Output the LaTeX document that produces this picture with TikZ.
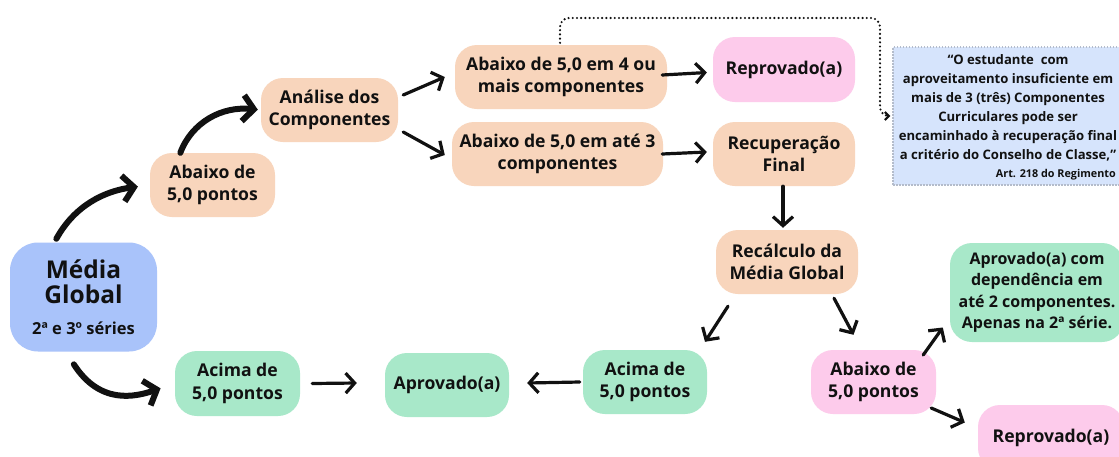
\documentclass[tikz,border=0pt]{standalone}
\usepackage{fontspec}
\setmainfont{Open Sans}
\usetikzlibrary{arrows.meta,calc}
\definecolor{peach}{HTML}{F8D5BC}
\definecolor{pinkb}{HTML}{FDCBEB}
\definecolor{greenb}{HTML}{A8E8C9}
\definecolor{blueb}{HTML}{A9C3FA}
\definecolor{quotef}{HTML}{D6E4FC}
\definecolor{quoted}{HTML}{B4BCCB}
\definecolor{ink}{HTML}{111111}
\begin{document}
\begin{tikzpicture}[x=1pt,y=-1pt,
  box/.style={rounded corners=22pt, inner sep=0pt, align=center, text=ink,
    font=\bfseries\fontsize{17.6}{22.5}\selectfont},
  thinarrow/.style={draw=ink, line width=3.2pt, line cap=round,
    -{Straight Barb[length=9pt,width=20pt,line width=3.2pt]}},
  bigarrow/.style={draw=ink, line width=6pt, line cap=round,
    -{Straight Barb[length=11pt,width=26pt,line width=6pt]}},
  dotline/.style={draw=ink, line width=2.4pt, line cap=round, dash pattern=on 0pt off 4.2pt,
    rounded corners=9pt, -{Straight Barb[length=4pt,width=8pt,line width=2.2pt]}}
]
\useasboundingbox (0,0) rectangle (1119,456);
\fill[white] (0,0) rectangle (1119,456);

% nodes
\node[box, fill=blueb, rounded corners=28pt, minimum width=147pt, minimum height=109pt,
  font=\bfseries\fontsize{24.5}{25}\selectfont] (media) at (83.5,297)
  {Média\\Global\\[6pt]\fontsize{16.5}{18}\selectfont 2ª e 3º séries};
\node[box, fill=peach, minimum width=125pt, minimum height=64pt] (ab1) at (212.5,185) {Abaixo de\\5,0 pontos};
\node[box, fill=peach, minimum width=137pt, minimum height=64pt] (anal) at (329.5,110) {Análise dos\\Componentes};
\node[box, fill=peach, minimum width=212pt, minimum height=64pt] (ab4) at (561,77) {Abaixo de 5,0 em 4 ou\\mais componentes};
\node[box, fill=peach, minimum width=211pt, minimum height=64pt] (ab3) at (557.5,154) {Abaixo de 5,0 em até 3\\componentes};
\node[box, fill=pinkb, minimum width=142pt, minimum height=65pt] (rep1) at (784,69.5) {Reprovado(a)};
\node[box, fill=peach, minimum width=142pt, minimum height=64pt] (recfin) at (784,154) {Recuperação\\Final};
\node[box, fill=peach, minimum width=142pt, minimum height=64pt] (recalc) at (787,262) {Recálculo da\\Média Global};
\node[box, fill=greenb, minimum width=124pt, minimum height=64pt] (acimaR) at (645,382) {Acima de\\5,0 pontos};
\node[box, fill=pinkb, minimum width=125pt, minimum height=64pt] (abPink) at (873.5,382) {Abaixo de\\5,0 pontos};
\node[box, fill=greenb, minimum width=174pt, minimum height=99pt, font=\bfseries\fontsize{16}{21.5}\selectfont] (dep) at (1037,292.5)
  {Aprovado(a) com\\dependência em\\até 2 componentes.\\Apenas na 2ª série.};
\node[box, fill=pinkb, minimum width=146pt, minimum height=65pt] (rep2) at (1051,437.5) {Reprovado(a)};
\node[box, fill=greenb, minimum width=125pt, minimum height=65pt] (acimaL) at (237.5,383.5) {Acima de\\5,0 pontos};
\node[box, fill=greenb, minimum width=124pt, minimum height=64pt] (aprov) at (447,385) {Aprovado(a)};

% quote box
\node[draw=quoted, line width=1.2pt, dash pattern=on 1.5pt off 1.5pt, fill=quotef, inner sep=0pt,
  minimum width=232pt, minimum height=138pt] (quote) at (1009,116) {};
\node[align=center, text=ink, inner sep=0pt, font=\bfseries\fontsize{13.1}{19}\selectfont] (qtext) at (1008,108)
  {“O estudante\ \ com\\aproveitamento insuficiente em\\mais de 3 (três) Componentes\\Curriculares pode ser\\encaminhado à recuperação final\\a critério do Conselho de Classe,”};
\node[anchor=east, text=ink, inner sep=0pt, font=\bfseries\fontsize{10.8}{13}\selectfont] (art) at (1116,175) {Art. 218 do Regimento};

% connectors
\draw[bigarrow, shorten <=4pt, shorten >=12pt] (media.118) .. controls (75,205) and (105,191) .. (ab1.west);
\draw[bigarrow, shorten >=3pt] (ab1.135) .. controls (192,122) and (222,106) .. (anal.west);
\draw[bigarrow, shorten <=15pt, shorten >=15pt] (media.252) .. controls (100,405) and (135,397) .. (acimaL.west);

\draw[thinarrow] ($(anal.east)+(5,-15)$) -- ($(ab4.west)+(-10,0)$);
\draw[thinarrow] ($(anal.east)+(5,22)$) -- ($(ab3.west)+(-7,1)$);
\draw[thinarrow] ($(ab4.east)+(-5,-2)$) -- ($(rep1.west)+(-6,3)$);
\draw[thinarrow] ($(ab3.east)+(-1,0)$) -- ($(recfin.west)+(-6,-2)$);
\draw[thinarrow] ($(recfin.south)+(-1,0)$) -- ($(recalc.north)+(-4,-2)$);
\draw[thinarrow] ($(recalc.south)+(-59,12)$) -- ($(acimaR.north)+(60,-8)$);
\draw[thinarrow] ($(recalc.south)+(47,4)$) -- ($(abPink.north)+(-20,-15)$);
\draw[thinarrow] ($(acimaR.west)+(-3,0)$) -- ($(aprov.east)+(18,-2)$);
\draw[thinarrow] ($(acimaL.east)+(12,0)$) -- ($(aprov.west)+(-28,-2)$);
\draw[thinarrow] ($(abPink.east)+(-13,-27)$) -- ($(dep.west)+(-7,35)$);
\draw[thinarrow] ($(abPink.east)+(-5,26)$) -- ($(rep2.west)+(-13,-15)$);

\draw[dotline] ($(ab4.north)+(-1,-2)$) |- (880,18) |- ($(quote.west)+(-2,0)$);
\end{tikzpicture}
\end{document}
